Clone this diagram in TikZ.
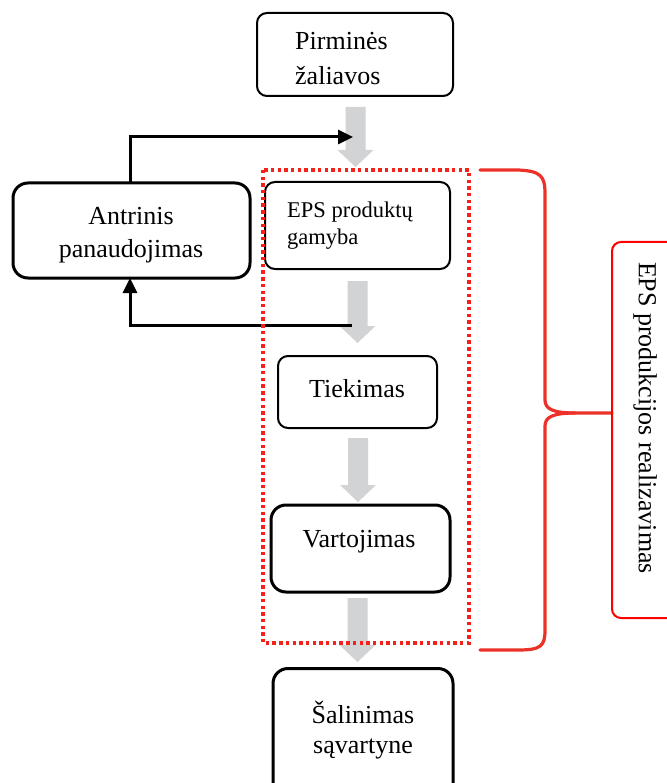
\documentclass[tikz,border=0pt]{standalone}
\usepackage{fontspec}
\setmainfont{Liberation Serif}
\usetikzlibrary{arrows.meta}

\definecolor{flowgrey}{HTML}{D1D3D4}
\definecolor{frame red}{HTML}{F5221B}
\definecolor{brace red}{HTML}{EC3128}

% grey block arrow: #1 = x of the axis, #2 = top of the shaft, #3 = tip
\newcommand{\greyarrow}[3]{%
  \fill[flowgrey] (#1-10,#2) -- (#1+10,#2) -- (#1+10,#3-17) -- (#1+18,#3-17)
    -- (#1,#3) -- (#1-18,#3-17) -- (#1-10,#3-17) -- cycle;}

\tikzset{
  thinbox/.style={draw, line width=2pt, rounded corners=10pt, inner sep=0pt},
  thickbox/.style={draw, line width=3pt, rounded corners=15pt, inner sep=0pt},
  bigtext/.style={font=\fontsize{26}{33}\selectfont, inner sep=0pt},
  smalltext/.style={font=\fontsize{22.5}{28}\selectfont, inner sep=0pt},
  feedback/.style={line width=3pt, -{Triangle[length=15pt,width=14pt]}},
}

\begin{document}
\begin{tikzpicture}[x=1pt, y=-1pt]
  \useasboundingbox (0,0) rectangle (666,783);

  % process boxes
  \node[thinbox, minimum width=196pt, minimum height=83pt] (raw) at (355,54.5) {};
  \node[thickbox, minimum width=237pt, minimum height=95pt] (reuse) at (131.5,230.5) {};
  \node[thinbox, minimum width=185pt, minimum height=87pt] (prod) at (357.5,225.5) {};
  \node[thinbox, minimum width=159pt, minimum height=72pt] (supply) at (357.5,392) {};
  \node[thickbox, minimum width=179pt, minimum height=87pt] (use) at (360.5,548.5) {};
  \node[thickbox, minimum width=180pt, minimum height=131pt] (landfill) at (363,734) {};

  % box texts (base anchor = baseline of the last line)
  \node[bigtext, font=\fontsize{26}{35}\selectfont, anchor=base west, align=left] (rawtext) at (295,85) {Pirminės\\žaliavos};
  \node[bigtext, anchor=base, align=center] (reusetext) at (131,258) {Antrinis\\panaudojimas};
  \node[smalltext, anchor=base west, align=left] (prodtext) at (287,245) {EPS produktų\\gamyba};
  \node[bigtext, anchor=base] (supplytext) at (357,397) {Tiekimas};
  \node[bigtext, anchor=base] (usetext) at (359,547) {Vartojimas};
  \node[bigtext, font=\fontsize{26}{30}\selectfont, anchor=base, align=center] (landfilltext) at (363,753) {Šalinimas\\sąvartyne};

  % main flow
  \greyarrow{355.5}{107}{167}
  \greyarrow{357.5}{281}{343}
  \greyarrow{358}{438}{502}
  \greyarrow{357.5}{598}{662}

  % recycling loop
  \coordinate (loopin) at (353,137);
  \coordinate (loopout) at (352,325);
  \draw[feedback] (130,183) |- (loopin);
  \draw[feedback] (loopout) -| (130,278);

  % dotted frame around the realisation stages
  \draw[frame red, line width=3.3pt, dash pattern=on 3.4pt off 3.3pt]
    (263,170) rectangle (469,643);

  % curly brace
  \draw[brace red, line width=3.2pt, line cap=round]
    (480,170) -- (518,170) .. controls (541,171) and (545,176) .. (545,194)
    -- (545,400) .. controls (545,409) and (553,413) .. (575,413) -- (612,413);
  \draw[brace red, line width=3.2pt, line cap=round]
    (575,413) .. controls (553,413) and (545,417) .. (545,426)
    -- (545,630) .. controls (545,646) and (541,650) .. (518,650) -- (480,650);

  % label box on the right
  \node[draw=red, line width=2pt, rounded corners=9pt, minimum width=80pt,
        minimum height=376pt, inner sep=0pt] (stage) at (652,430) {};
  \node[bigtext, rotate=-90] (stagetext) at (645,418) {EPS produkcijos realizavimas};
\end{tikzpicture}
\end{document}
